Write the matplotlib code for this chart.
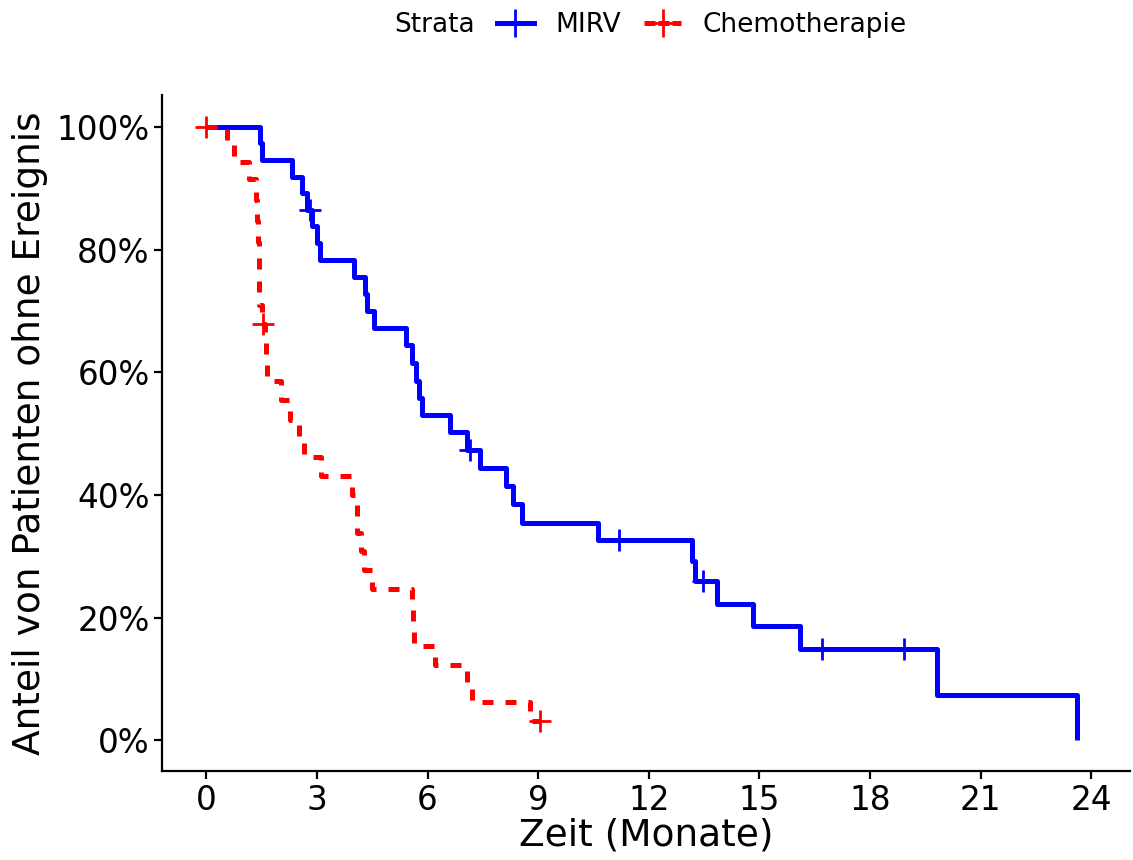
import matplotlib
matplotlib.use("Agg")
import matplotlib.pyplot as plt

# Kaplan-Meier steps (time in months, survival in %)
mirv_t = [0, 1.47, 1.50, 2.32, 2.61, 2.72, 2.87, 3.01, 3.08, 4.02, 4.30, 4.35, 4.56,
          5.43, 5.57, 5.68, 5.78, 5.84, 6.60, 7.08, 7.41, 8.12, 8.31, 8.55, 10.62,
          13.17, 13.25, 13.85, 14.83, 16.10, 19.82, 23.62]
mirv_s = [100, 97.3, 94.6, 91.9, 89.2, 86.5, 83.8, 81.0, 78.3, 75.5, 72.8, 70.0, 67.2,
          64.4, 61.5, 58.6, 55.8, 53.0, 50.2, 47.4, 44.4, 41.4, 38.5, 35.5, 32.6,
          29.3, 26.0, 22.3, 18.6, 14.9, 7.4, 0]
mirv_cens_t = [2.82, 7.14, 11.19, 13.47, 16.70, 18.93]
mirv_cens_s = [86.5, 47.4, 32.6, 26.0, 14.9, 14.9]

chemo_t = [0, 0.57, 0.76, 1.17, 1.36, 1.38, 1.40, 1.42, 1.43, 1.44, 1.52, 1.58, 1.62,
           1.65, 2.04, 2.28, 2.52, 2.66, 3.12, 3.94, 4.08, 4.10, 4.20, 4.28, 4.50,
           5.57, 5.60, 5.63, 6.19, 7.06, 7.20, 8.77, 9.04]
chemo_s = [100, 97.0, 94.2, 91.5, 88.1, 84.7, 81.3, 77.9, 74.5, 71.0, 67.8, 64.7, 61.6,
           58.5, 55.4, 52.3, 49.2, 46.2, 43.1, 40.0, 36.9, 33.8, 30.8, 27.7, 24.6,
           21.5, 18.5, 15.4, 12.3, 9.2, 6.2, 3.1, 3.1]
chemo_cens_t = [0, 1.55, 9.04]
chemo_cens_s = [100, 67.8, 3.1]

groups = ["MIRV", "Chemotherapie"]
x_ticks = [0, 3, 6, 9, 12, 15, 18, 21, 24]
y_ticks = [0, 20, 40, 60, 80, 100]
y_ticklabels = ["0%", "20%", "40%", "60%", "80%", "100%"]

fig = plt.figure(figsize=(11.33, 8.6), dpi=100)
ax = fig.add_axes([162/1133, 1 - 771/860, (1130 - 162)/1133, (771 - 95)/860])

lw = 3.6
ax.step(mirv_t, mirv_s, where="post", color="#0000ff", lw=lw, solid_capstyle="butt")
ax.plot(mirv_cens_t, mirv_cens_s, "+", color="#0000ff", ms=16, mew=2)
ax.step(chemo_t, chemo_s, where="post", color="#ff0000", lw=lw, dashes=(2.2, 2.4))
ax.plot(chemo_cens_t, chemo_cens_s, "+", color="#ff0000", ms=16, mew=2)

ax.set_xlim(-1.2, 25.05)
ax.set_ylim(-5, 105.2)
ax.set_xticks(x_ticks)
ax.set_yticks(y_ticks)
ax.set_yticklabels(y_ticklabels)
ax.tick_params(labelsize=23.5, length=6, width=1.6, color="black", pad=3)
for side in ["top", "right"]:
    ax.spines[side].set_visible(False)
for side in ["left", "bottom"]:
    ax.spines[side].set_linewidth(1.6)

ax.set_xlabel("Zeit (Monate)", fontsize=27, labelpad=1)
ax.set_ylabel("Anteil von Patienten ohne Ereignis", fontsize=27, labelpad=6)

# legend with "Strata" title on the left, in one row
h1 = plt.Line2D([], [], color="#0000ff", lw=lw, marker="+", ms=20, mew=2)
h2 = plt.Line2D([], [], color="#ff0000", lw=lw, marker="+", ms=20, mew=2, dashes=(2.2, 0.6))
fig.legend([h1, h2], groups, ncol=2, loc="center left",
           bbox_to_anchor=(497/1133, 1 - 25/860), frameon=False, borderpad=0,
           borderaxespad=0, handlelength=1.4, handletextpad=0.8, columnspacing=0.9,
           numpoints=1, fontsize=19)
fig.text(475/1133, 1 - 25/860, "Strata", ha="right", va="center", fontsize=19)

fig.savefig("out.png", dpi=100)
